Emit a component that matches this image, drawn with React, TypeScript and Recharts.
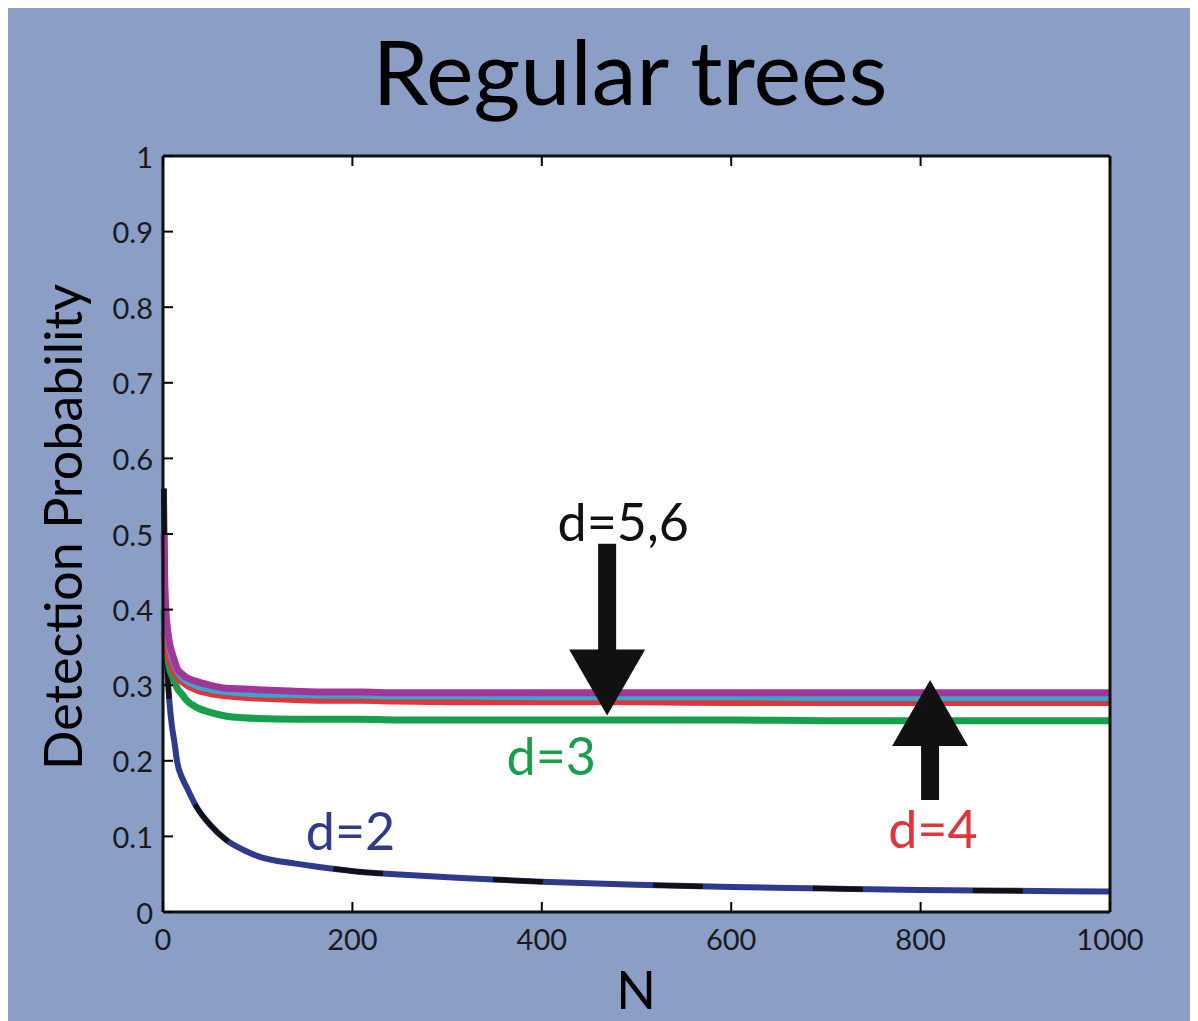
import type { FC } from "react";
import { LineChart, Line, XAxis, YAxis, CartesianGrid, ReferenceLine, ReferenceDot } from "recharts";

// sample sizes read along the x axis
const N_VALUES = [1, 2, 3, 5, 7, 9, 12, 15, 20, 25, 35, 50, 67, 85, 100, 140, 175, 210, 245, 315, 400, 500, 600, 700, 800, 900, 1000];

// detection probability per tree degree
const D2 = [0.56, 0.44, 0.37, 0.31, 0.275, 0.25, 0.225, 0.198, 0.178, 0.165, 0.14, 0.115, 0.095, 0.082, 0.074, 0.064, 0.058, 0.053, 0.05, 0.045, 0.04, 0.036, 0.033, 0.031, 0.029, 0.028, 0.027];
const D3 = [0.4, 0.37, 0.352, 0.335, 0.322, 0.314, 0.305, 0.296, 0.288, 0.28, 0.271, 0.264, 0.259, 0.257, 0.256, 0.255, 0.255, 0.255, 0.254, 0.254, 0.254, 0.254, 0.254, 0.253, 0.253, 0.253, 0.253];
const D4 = [0.37, 0.36, 0.352, 0.342, 0.333, 0.326, 0.318, 0.311, 0.305, 0.3, 0.294, 0.289, 0.286, 0.284, 0.283, 0.281, 0.28, 0.28, 0.279, 0.278, 0.278, 0.278, 0.277, 0.277, 0.277, 0.277, 0.277];
const D5 = [0.5, 0.42, 0.39, 0.362, 0.347, 0.337, 0.327, 0.318, 0.31, 0.305, 0.299, 0.294, 0.291, 0.289, 0.288, 0.287, 0.286, 0.286, 0.285, 0.285, 0.284, 0.284, 0.284, 0.283, 0.283, 0.283, 0.283];
const D6 = [0.5, 0.43, 0.4, 0.372, 0.355, 0.345, 0.333, 0.322, 0.315, 0.31, 0.305, 0.3, 0.296, 0.295, 0.294, 0.292, 0.291, 0.291, 0.29, 0.29, 0.29, 0.29, 0.29, 0.29, 0.29, 0.29, 0.29];

const X_TICKS = [0, 200, 400, 600, 800, 1000];
const Y_TICKS = [0, 0.1, 0.2, 0.3, 0.4, 0.5, 0.6, 0.7, 0.8, 0.9, 1];

const data = N_VALUES.map((n, i) => ({ n, d2: D2[i], d3: D3[i], d4: D4[i], d5: D5[i], d6: D6[i] }));

const W = 1190;
const H = 1013;
const BG = "#8a9ec6";
const FONT = "Lato, 'Open Sans', sans-serif";
const TICK_LEN = 10;

const BottomTick = ({ x, y, payload }: any) => (
  <g>
    <line x1={x} x2={x} y1={y} y2={y - TICK_LEN} stroke="#000" strokeWidth={2} />
    <text x={x} y={y + 26} textAnchor="middle" dominantBaseline="central" fontSize={29} fill="#1a1a1a" fontFamily={FONT}>
      {payload.value}
    </text>
  </g>
);

const LeftTick = ({ x, y, payload }: any) => (
  <g>
    <line x1={x} x2={x + TICK_LEN} y1={y} y2={y} stroke="#000" strokeWidth={2} />
    <text x={x - 10} y={y} textAnchor="end" dominantBaseline="central" fontSize={29} fill="#1a1a1a" fontFamily={FONT}>
      {payload.value}
    </text>
  </g>
);

const TopTick = ({ x, y }: any) => <line x1={x} x2={x} y1={y} y2={y + TICK_LEN} stroke="#000" strokeWidth={2} />;
const RightTick = ({ x, y }: any) => <line x1={x} x2={x - TICK_LEN} y1={y} y2={y} stroke="#000" strokeWidth={2} />;

const label = (text: string, color: string) => (p: any) => (
  <text x={p.cx} y={p.cy} textAnchor="middle" dominantBaseline="central" fontSize={52} fill={color} fontFamily={FONT}>
    {text}
  </text>
);

const headDown = (p: any) => (
  <polygon points={`${p.cx},${p.cy} ${p.cx - 38},${p.cy - 66} ${p.cx + 38},${p.cy - 66}`} fill="#111" />
);
const headUp = (p: any) => (
  <polygon points={`${p.cx},${p.cy} ${p.cx - 38},${p.cy + 66} ${p.cx + 38},${p.cy + 66}`} fill="#111" />
);

const axisLine = { stroke: "#111", strokeWidth: 3 };

const App: FC = () => {
  return (
    <div style={{ position: "relative", width: W, height: H, background: BG }}>
      <style>{"body{overflow:hidden}"}</style>
      <LineChart width={W} height={H} data={data} margin={{ top: 147, right: 87, bottom: 49, left: 95 }}>
        <CartesianGrid xAxisId="b" yAxisId="l" horizontal={false} vertical={false} fill="#ffffff" />
        <XAxis xAxisId="b" dataKey="n" type="number" domain={[0, 1000]} ticks={X_TICKS} interval={0} height={60}
          tickSize={0} tickMargin={0} tickLine={false} axisLine={axisLine} tick={BottomTick} />
        <XAxis xAxisId="t" orientation="top" dataKey="n" type="number" domain={[0, 1000]} ticks={X_TICKS} interval={0} height={1}
          tickSize={0} tickMargin={0} tickLine={false} axisLine={axisLine} tick={TopTick} />
        <YAxis yAxisId="l" type="number" domain={[0, 1]} ticks={Y_TICKS} interval={0} width={60}
          tickSize={0} tickMargin={0} tickLine={false} axisLine={axisLine} tick={LeftTick} />
        <YAxis yAxisId="r" orientation="right" type="number" domain={[0, 1]} ticks={Y_TICKS} interval={0} width={1}
          tickSize={0} tickMargin={0} tickLine={false} axisLine={axisLine} tick={RightTick} />

        <Line xAxisId="b" yAxisId="l" type="monotone" dataKey="d2" stroke="#2e3a8e" strokeWidth={6} dot={false} activeDot={false} isAnimationActive={false} />
        <Line xAxisId="b" yAxisId="l" type="monotone" dataKey="d2" stroke="#111" strokeWidth={5} strokeDasharray="50 110" dot={false} activeDot={false} isAnimationActive={false} />
        <Line xAxisId="b" yAxisId="l" type="monotone" dataKey="d3" stroke="#17a04c" strokeWidth={7} dot={false} activeDot={false} isAnimationActive={false} />
        <Line xAxisId="b" yAxisId="l" type="monotone" dataKey="d4" stroke="#e0353a" strokeWidth={7} dot={false} activeDot={false} isAnimationActive={false} />
        <Line xAxisId="b" yAxisId="l" type="monotone" dataKey="d5" stroke="#33a9cc" strokeWidth={6} dot={false} activeDot={false} isAnimationActive={false} />
        <Line xAxisId="b" yAxisId="l" type="monotone" dataKey="d6" stroke="#a3359a" strokeWidth={7} dot={false} activeDot={false} isAnimationActive={false} />

        <ReferenceLine xAxisId="b" yAxisId="l" segment={[{ x: 469, y: 0.487 }, { x: 469, y: 0.34 }]} stroke="#111" strokeWidth={18} />
        <ReferenceDot xAxisId="b" yAxisId="l" x={469} y={0.26} r={0} shape={headDown} />
        <ReferenceLine xAxisId="b" yAxisId="l" segment={[{ x: 810, y: 0.148 }, { x: 810, y: 0.23 }]} stroke="#111" strokeWidth={18} />
        <ReferenceDot xAxisId="b" yAxisId="l" x={810} y={0.307} r={0} shape={headUp} />

        <ReferenceDot xAxisId="b" yAxisId="l" x={198} y={0.109} r={0} shape={label("d=2", "#2e3a8e")} />
        <ReferenceDot xAxisId="b" yAxisId="l" x={410} y={0.208} r={0} shape={label("d=3", "#17a04c")} />
        <ReferenceDot xAxisId="b" yAxisId="l" x={813} y={0.111} r={0} shape={label("d=4", "#e0353a")} />
        <ReferenceDot xAxisId="b" yAxisId="l" x={486} y={0.517} r={0} shape={label("d=5,6", "#111")} />
      </LineChart>

      <svg width={W} height={H} style={{ position: "absolute", left: 0, top: 0, pointerEvents: "none" }}>
        <text x={622} y={62} textAnchor="middle" dominantBaseline="central" fontSize={90} fill="#000" fontFamily={FONT}>
          Regular trees
        </text>
        <text x={0} y={0} transform="translate(54 519) rotate(-90)" textAnchor="middle" dominantBaseline="central" fontSize={52} fill="#000" fontFamily={FONT}>
          Detection Probability
        </text>
        <text x={628} y={981} textAnchor="middle" dominantBaseline="central" fontSize={52} fill="#000" fontFamily={FONT}>
          N
        </text>
      </svg>
    </div>
  );
};

export default App;
